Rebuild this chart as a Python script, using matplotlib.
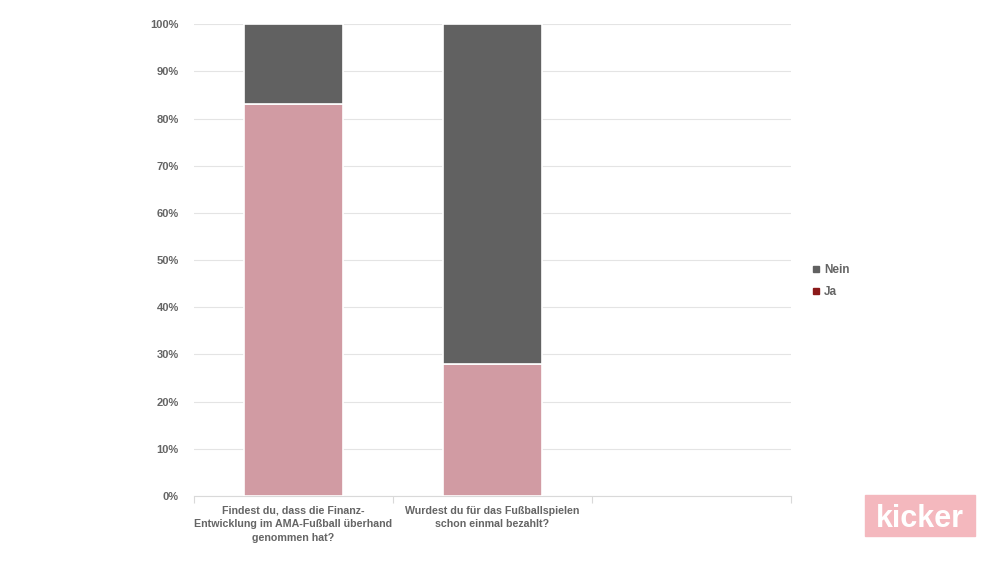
import matplotlib
matplotlib.use("Agg")
import matplotlib.pyplot as plt
from matplotlib.patches import Rectangle
from matplotlib.ticker import FuncFormatter, MultipleLocator

categories = ["Findest du, dass die Finanz-\nEntwicklung im AMA-Fußball überhand\ngenommen hat?",
              "Wurdest du für das Fußballspielen\nschon einmal bezahlt?", ""]
ja = [83, 28, 0]
nein = [17, 72, 0]

plt.rcParams['font.family'] = ['Liberation Sans', 'DejaVu Sans']

fig = plt.figure(figsize=(10, 5.63), dpi=100)
ax = fig.add_axes([0.194, 0.119, 0.597, 0.838])

x = list(range(len(categories)))
pink = "#D19BA3"
grey = "#616161"
txt = "#656565"
ax.bar(x[:2], ja[:2], width=0.5, color=pink, edgecolor="white", linewidth=1.2, zorder=3)
ax.bar(x[:2], nein[:2], width=0.5, bottom=ja[:2], color=grey, edgecolor="white", linewidth=1.2, zorder=3)

ax.set_xlim(-0.5, 2.5)
ax.set_ylim(0, 100)
ax.yaxis.set_major_locator(MultipleLocator(10))
ax.yaxis.set_major_formatter(FuncFormatter(lambda v, p: f"{int(v)}%"))
ax.grid(axis="y", color="#E4E4E4", linewidth=0.8, zorder=0)
for s in ["top", "right", "left"]:
    ax.spines[s].set_visible(False)
ax.spines["bottom"].set_color("#D9D9D9")
ax.tick_params(axis="y", length=0, pad=11, labelsize=8, labelcolor=txt)
ax.set_xticks([-0.5, 0.5, 1.5, 2.5], minor=False)
ax.set_xticklabels([])
ax.tick_params(axis="x", which="major", length=5, color="#D9D9D9", direction="out")
ax.set_xticks(x, minor=True)
ax.set_xticklabels(categories, minor=True, fontsize=7.7, color=txt, fontweight="bold",
                   linespacing=1.45)
ax.tick_params(axis="x", which="minor", length=0, pad=7)
for t in ax.get_yticklabels():
    t.set_fontweight("bold")

h1 = Rectangle((0, 0), 1, 1, color=grey)
h2 = Rectangle((0, 0), 1, 1, color="#8B1A1A")
leg = fig.legend([h1, h2], ["Nein", "Ja"], loc="center left", bbox_to_anchor=(0.802, 0.501),
                 frameon=False, handlelength=0.5, handleheight=0.4, handletextpad=0.45,
                 labelspacing=0.85, prop={"size": 8.5, "weight": "bold"})
for t in leg.get_texts():
    t.set_color(txt)

fig.patches.append(Rectangle((0.865, 0.048), 0.11, 0.072, transform=fig.transFigure,
                             color="#F4B8BE", zorder=5))
fig.text(0.92, 0.079, "kicker", ha="center", va="center", color="white", fontsize=22,
         fontweight="bold", family=["Liberation Sans", "DejaVu Sans"], zorder=6)

fig.savefig("out.png", dpi=100, facecolor="white")
